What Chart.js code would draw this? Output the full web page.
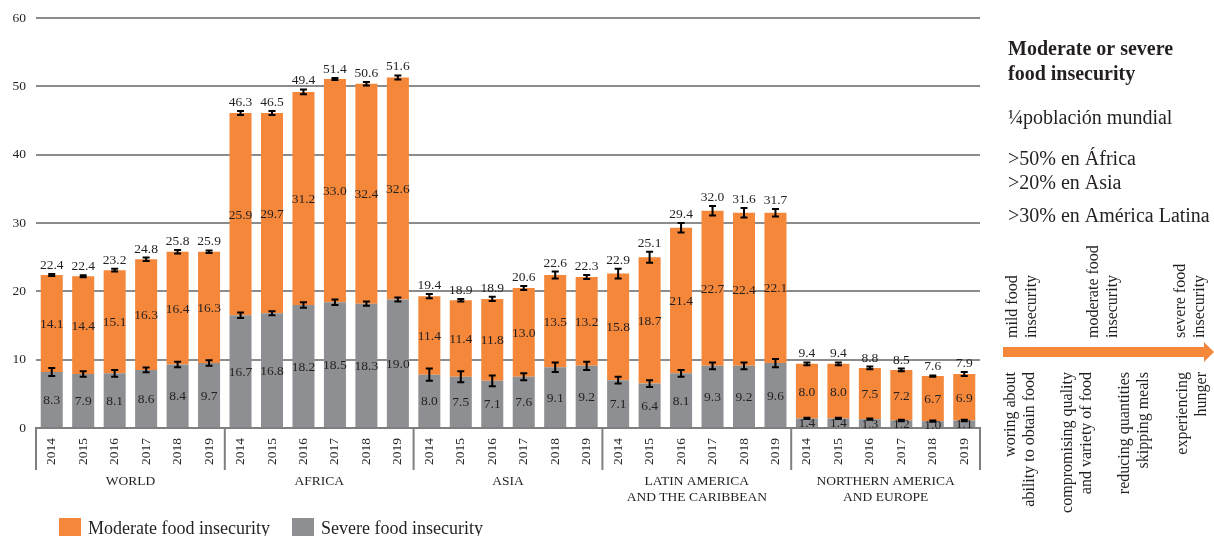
<!DOCTYPE html>
<html>
<head>
<meta charset="utf-8">
<title>Food insecurity</title>
<script src="https://cdn.jsdelivr.net/npm/chart.js@4/dist/chart.umd.min.js"></script>
<style>
    html, body { margin: 0; padding: 0; background: #fff; }
    #wrap { width: 1214px; height: 536px; }
</style>
</head>
<body>
<div id="wrap"><canvas id="foodChart" width="1214" height="536"></canvas></div>
<script>
    var regions = [["WORLD"], ["AFRICA"], ["ASIA"], ["LATIN AMERICA", "AND THE CARIBBEAN"], ["NORTHERN AMERICA", "AND EUROPE"]];
    var years = ["2014", "2015", "2016", "2017", "2018", "2019"];

    // bar heights as drawn
    var severeValues = [8.2, 7.9, 8.0, 8.5, 9.3, 9.5,
        16.5, 16.8, 18.0, 18.4, 18.2, 18.8,
        7.8, 7.5, 6.9, 7.5, 8.9, 9.1,
        7.0, 6.5, 8.0, 9.1, 9.1, 9.5,
        1.4, 1.4, 1.3, 1.1, 1.0, 1.1];
    var moderateValues = [14.2, 14.3, 15.1, 16.2, 16.5, 16.3,
        29.6, 29.3, 31.2, 32.7, 32.2, 32.5,
        11.5, 11.2, 12.0, 13.0, 13.5, 13.0,
        15.6, 18.5, 21.3, 22.7, 22.4, 22.0,
        8.0, 8.0, 7.5, 7.4, 6.6, 6.8];

    // printed numbers
    var severeLabels = ["8.3", "7.9", "8.1", "8.6", "8.4", "9.7",
        "16.7", "16.8", "18.2", "18.5", "18.3", "19.0",
        "8.0", "7.5", "7.1", "7.6", "9.1", "9.2",
        "7.1", "6.4", "8.1", "9.3", "9.2", "9.6",
        "1.4", "1.4", "1.3", "1.2", "1.0", "1.1"];
    var moderateLabels = ["14.1", "14.4", "15.1", "16.3", "16.4", "16.3",
        "25.9", "29.7", "31.2", "33.0", "32.4", "32.6",
        "11.4", "11.4", "11.8", "13.0", "13.5", "13.2",
        "15.8", "18.7", "21.4", "22.7", "22.4", "22.1",
        "8.0", "8.0", "7.5", "7.2", "6.7", "6.9"];
    var totalLabels = ["22.4", "22.4", "23.2", "24.8", "25.8", "25.9",
        "46.3", "46.5", "49.4", "51.4", "50.6", "51.6",
        "19.4", "18.9", "18.9", "20.6", "22.6", "22.3",
        "22.9", "25.1", "29.4", "32.0", "31.6", "31.7",
        "9.4", "9.4", "8.8", "8.5", "7.6", "7.9"];

    // +/- half width of the error bars
    var totalErrors = [0.15, 0.15, 0.2, 0.25, 0.25, 0.2,
        0.3, 0.3, 0.35, 0.15, 0.25, 0.3,
        0.3, 0.2, 0.3, 0.3, 0.5, 0.3,
        0.7, 0.8, 0.7, 0.7, 0.7, 0.55,
        0.2, 0.2, 0.2, 0.2, 0.1, 0.3];
    var severeErrors = [0.6, 0.4, 0.5, 0.35, 0.4, 0.4,
        0.4, 0.3, 0.4, 0.4, 0.3, 0.3,
        0.9, 0.8, 0.8, 0.5, 0.7, 0.6,
        0.5, 0.5, 0.5, 0.5, 0.5, 0.6,
        0.1, 0.1, 0.1, 0.1, 0.1, 0.1];

    var sideTitle = ["Moderate or severe", "food insecurity"];
    var sideNotes = ["\u00bcpoblación mundial", ">50% en África", ">20% en Asia", ">30% en América Latina"];
    var scaleAbove = [["mild food", "insecurity"], ["moderate food", "insecurity"], ["severe food", "insecurity"]];
    var scaleBelow = [["woring about", "ability to obtain food"], ["compromising quality", "and variety of food"],
        ["reducing quantities", "skipping meals"], ["experiencing", "hunger"]];

    var ORANGE = '#f4873a';
    var GREY = '#8e8f93';
    var INK = '#231f20';
    var SERIF = '"Liberation Serif", "DejaVu Serif", serif';

    var categories = [];
    for (var r = 0; r < regions.length; r++) {
        for (var k = 0; k < years.length; k++) {
            categories.push(years[k]);
        }
    }

    function drawErrorBar(ctx, px, yTop, yBottom) {
        ctx.beginPath();
        ctx.moveTo(px, yTop);
        ctx.lineTo(px, yBottom);
        ctx.moveTo(px - 3.5, yTop);
        ctx.lineTo(px + 3.5, yTop);
        ctx.moveTo(px - 3.5, yBottom);
        ctx.lineTo(px + 3.5, yBottom);
        ctx.stroke();
    }

    var overlayPlugin = {
        id: 'overlay',
        afterDatasetsDraw: function (chart) {
            var ctx = chart.ctx;
            var yScale = chart.scales.y;
            var sevMeta = chart.getDatasetMeta(0);
            var modMeta = chart.getDatasetMeta(1);
            ctx.save();
            ctx.strokeStyle = '#000';
            ctx.lineWidth = 2;
            for (var i = 0; i < categories.length; i++) {
                var sev = sevMeta.data[i];
                var mod = modMeta.data[i];
                var total = severeValues[i] + moderateValues[i];
                drawErrorBar(ctx, sev.x, yScale.getPixelForValue(severeValues[i] + severeErrors[i]), yScale.getPixelForValue(severeValues[i] - severeErrors[i]));
                drawErrorBar(ctx, mod.x, yScale.getPixelForValue(total + totalErrors[i]), yScale.getPixelForValue(total - totalErrors[i]));
            }
            ctx.fillStyle = INK;
            ctx.font = '13.5px ' + SERIF;
            ctx.textAlign = 'center';
            for (var j = 0; j < categories.length; j++) {
                var s = sevMeta.data[j];
                var m = modMeta.data[j];
                ctx.textBaseline = 'middle';
                ctx.fillText(severeLabels[j], s.x, (s.y + s.base) / 2 + 1);
                ctx.fillText(moderateLabels[j], m.x, (m.y + m.base) / 2 + 1);
                ctx.textBaseline = 'alphabetic';
                var top = yScale.getPixelForValue(severeValues[j] + moderateValues[j] + totalErrors[j]);
                ctx.fillText(totalLabels[j], m.x, top - 5);
            }
            ctx.restore();
        },
        afterDraw: function (chart) {
            var ctx = chart.ctx;
            var xScale = chart.scales.x;
            var area = chart.chartArea;
            var step = xScale.getPixelForValue(1) - xScale.getPixelForValue(0);
            ctx.save();

            // group separators and region names
            ctx.strokeStyle = '#7f7f7f';
            ctx.lineWidth = 2;
            ctx.fillStyle = INK;
            ctx.font = '13.5px ' + SERIF;
            ctx.textAlign = 'center';
            ctx.textBaseline = 'alphabetic';
            for (var g = 0; g <= regions.length; g++) {
                var bx = xScale.getPixelForValue(g * years.length) - step / 2;
                if (g === regions.length) bx = xScale.getPixelForValue(g * years.length - 1) + step / 2;
                ctx.beginPath();
                ctx.moveTo(bx, area.bottom);
                ctx.lineTo(bx, area.bottom + 42);
                ctx.stroke();
                if (g < regions.length) {
                    var cx = (xScale.getPixelForValue(g * years.length) + xScale.getPixelForValue(g * years.length + years.length - 1)) / 2;
                    for (var l = 0; l < regions[g].length; l++) {
                        ctx.fillText(regions[g][l], cx, area.bottom + 57 + l * 16);
                    }
                }
            }

            // legend
            var legendItems = [[chart.data.datasets[1].label, ORANGE, 59], [chart.data.datasets[0].label, GREY, 292]];
            ctx.font = '18px ' + SERIF;
            ctx.textAlign = 'left';
            for (var n = 0; n < legendItems.length; n++) {
                ctx.fillStyle = legendItems[n][1];
                ctx.fillRect(legendItems[n][2], 518, 22, 22);
                ctx.fillStyle = INK;
                ctx.fillText(legendItems[n][0], legendItems[n][2] + 29, 534);
            }

            // side notes
            ctx.font = 'bold 20px ' + SERIF;
            ctx.fillText(sideTitle[0], 1008, 55);
            ctx.fillText(sideTitle[1], 1008, 80);
            ctx.font = '20px ' + SERIF;
            var noteY = [124, 165, 189, 222];
            for (var t = 0; t < sideNotes.length; t++) {
                ctx.fillText(sideNotes[t], 1008, noteY[t]);
            }

            // severity arrow
            ctx.fillStyle = ORANGE;
            ctx.fillRect(1003, 347, 203, 10);
            ctx.beginPath();
            ctx.moveTo(1204, 342);
            ctx.lineTo(1214, 352);
            ctx.lineTo(1204, 362);
            ctx.closePath();
            ctx.fill();

            ctx.fillStyle = INK;
            ctx.font = '16px ' + SERIF;
            ctx.textBaseline = 'middle';
            var aboveX = [1013, 1094, 1181];
            for (var a = 0; a < scaleAbove.length; a++) {
                for (var la = 0; la < scaleAbove[a].length; la++) {
                    ctx.save();
                    ctx.translate(aboveX[a] + la * 19, 338);
                    ctx.rotate(-Math.PI / 2);
                    ctx.textAlign = 'left';
                    ctx.fillText(scaleAbove[a][la], 0, 0);
                    ctx.restore();
                }
            }
            var belowX = [1011, 1068, 1125, 1183];
            for (var b = 0; b < scaleBelow.length; b++) {
                for (var lb = 0; lb < scaleBelow[b].length; lb++) {
                    ctx.save();
                    ctx.translate(belowX[b] + lb * 19, 372);
                    ctx.rotate(-Math.PI / 2);
                    ctx.textAlign = 'right';
                    ctx.fillText(scaleBelow[b][lb], 0, 0);
                    ctx.restore();
                }
            }
            ctx.restore();
        }
    };

    var config = {
        type: 'bar',
        data: {
            labels: categories,
            datasets: [{
                label: 'Severe food insecurity',
                data: severeValues,
                backgroundColor: GREY,
                borderWidth: 0,
                categoryPercentage: 1,
                barPercentage: 0.7
            }, {
                label: 'Moderate food insecurity',
                data: moderateValues,
                backgroundColor: ORANGE,
                borderWidth: 0,
                categoryPercentage: 1,
                barPercentage: 0.7
            }]
        },
        options: {
            responsive: false,
            animation: false,
            devicePixelRatio: 1,
            layout: { padding: { left: 0, top: 18, right: 234, bottom: 0 } },
            plugins: {
                legend: { display: false },
                tooltip: { enabled: false }
            },
            scales: {
                x: {
                    stacked: true,
                    grid: { display: false, drawTicks: false },
                    border: { display: true, color: '#7f7f7f', width: 2 },
                    ticks: {
                        color: INK,
                        font: { family: SERIF, size: 13.5 },
                        minRotation: 90,
                        maxRotation: 90,
                        padding: 10,
                        autoSkip: false
                    },
                    afterFit: function (scale) { scale.height = 108; }
                },
                y: {
                    stacked: true,
                    min: 0,
                    max: 60,
                    grid: { color: '#8c8c8c', lineWidth: 2, drawTicks: false },
                    border: { display: false },
                    ticks: {
                        stepSize: 10,
                        color: INK,
                        font: { family: SERIF, size: 13.5 },
                        padding: 10
                    },
                    afterFit: function (scale) { scale.width = 36; }
                }
            }
        },
        plugins: [overlayPlugin]
    };

    new Chart(document.getElementById('foodChart').getContext('2d'), config);
</script>
</body>
</html>
